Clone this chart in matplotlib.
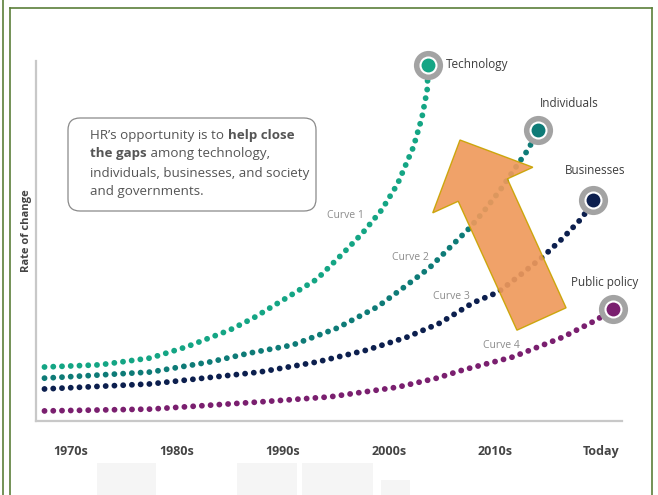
import matplotlib
matplotlib.use("Agg")
import matplotlib.pyplot as plt
from matplotlib.patches import FancyBboxPatch, FancyArrow, Rectangle

plt.rcParams['font.family'] = ['Open Sans', 'DejaVu Sans']

# ------------------------------
# Data (x in decades from the 1970s, y = rate of change 0..100)
# ------------------------------
decades = ['1970s', '1980s', '1990s', '2000s', '2010s', 'Today']

curve1_x = [-0.25, 0.27, 0.75, 1.09, 1.50, 1.72, 2.00, 2.32, 2.57, 2.75, 2.93, 3.08, 3.23, 3.31, 3.36, 3.37]
curve1_y = [15.0, 15.6, 17.5, 20.6, 25.3, 28.6, 33.6, 39.4, 46.7, 52.2, 58.6, 65.8, 76.1, 84.2, 91.9, 98.9]

curve2_x = [-0.25, 0.75, 1.31, 1.69, 2.09, 2.51, 2.89, 3.13, 3.38, 3.55, 3.76, 3.89, 4.05, 4.21, 4.31, 4.41]
curve2_y = [11.9, 13.6, 16.4, 18.9, 21.1, 25.8, 31.7, 36.9, 42.5, 47.5, 53.6, 58.1, 64.2, 71.1, 75.3, 80.8]

curve3_x = [-0.25, 0.75, 1.78, 2.32, 2.79, 3.17, 3.48, 3.79, 4.03, 4.24, 4.45, 4.64, 4.83, 4.92]
curve3_y = [8.9, 10.3, 13.6, 16.4, 19.7, 23.3, 27.2, 32.8, 35.8, 40.6, 45.6, 50.8, 56.7, 61.4]

curve4_x = [-0.25, 0.75, 1.78, 2.44, 3.08, 3.45, 3.70, 4.17, 4.64, 4.96, 5.11]
curve4_y = [2.8, 3.3, 5.3, 6.7, 9.4, 11.9, 14.2, 17.8, 23.3, 28.1, 31.1]

curve_names = ['Technology', 'Individuals', 'Businesses', 'Public policy']
curve_labels = ['Curve 1', 'Curve 2', 'Curve 3', 'Curve 4']
colors = ['#14a584', '#0e7b77', '#0c1f4e', '#7a1f6f']

# ------------------------------
# Figure and axes
# ------------------------------
W, H = 658, 495
fig = plt.figure(figsize=(W / 100, H / 100), dpi=100)
ax = fig.add_axes([36 / W, (H - 421) / H, (622 - 36) / W, (421 - 61) / H])
ax.patch.set_visible(False)
ax.set_xlim(-0.33, 5.198)
ax.set_ylim(0, 100)

for s in ['top', 'right']:
    ax.spines[s].set_visible(False)
for s in ['left', 'bottom']:
    ax.spines[s].set_color('#c8c8c8')
    ax.spines[s].set_linewidth(1.6)

ax.set_xticks(range(len(decades)))
ax.set_xticklabels(decades, fontsize=9, fontweight='bold', color='#444444')
ax.tick_params(axis='x', length=0, pad=17)
ax.set_yticks([])
ax.set_ylabel('Rate of change', fontsize=8, fontweight='bold', color='#444444')
ax.yaxis.set_label_coords(-0.006, 0.53)

# ------------------------------
# Dotted curves with ringed end points
# ------------------------------
curves = [(curve1_x, curve1_y), (curve2_x, curve2_y), (curve3_x, curve3_y), (curve4_x, curve4_y)]
for (xs, ys), c in zip(curves, colors):
    ax.plot(xs, ys, color=c, lw=4.2, linestyle=(0, (0.01, 1.49)),
            dash_capstyle='round', zorder=3, clip_on=False)
    ax.plot(xs[-1], ys[-1], 'o', ms=21, color='#a3a3a3', mec='none', zorder=4, clip_on=False)
    ax.plot(xs[-1], ys[-1], 'o', ms=13, color='white', mec='none', zorder=5, clip_on=False)
    ax.plot(xs[-1], ys[-1], 'o', ms=10, color=c, mec='none', zorder=6, clip_on=False)

# End labels
name_style = dict(fontsize=8.5, color='#3d3d3d', va='center')
ax.text(3.54, 98.9, curve_names[0], ha='left', **name_style)
ax.text(4.70, 88.3, curve_names[1], ha='center', **name_style)
ax.text(4.94, 69.7, curve_names[2], ha='center', **name_style)
ax.text(5.03, 38.6, curve_names[3], ha='center', **name_style)

# Curve labels
lab_style = dict(fontsize=7.5, color='#8c8c8c', ha='center', va='center')
ax.text(2.59, 57.2, curve_labels[0], **lab_style)
ax.text(3.20, 45.3, curve_labels[1], **lab_style)
ax.text(3.59, 34.7, curve_labels[2], **lab_style)
ax.text(4.06, 21.1, curve_labels[3], **lab_style)

# ------------------------------
# Decorations in pixel coordinates
# ------------------------------
deco = fig.add_axes([0, 0, 1, 1])
deco.set_xlim(0, W)
deco.set_ylim(H, 0)
deco.axis('off')

frame_c = '#5b7f3a'
deco.plot([3, 3], [0, H], color=frame_c, lw=1.2)
deco.plot([10, 10], [8, H], color=frame_c, lw=1.2)
deco.plot([10, 652], [8, 8], color=frame_c, lw=1.2)
deco.plot([652, 652], [8, H], color=frame_c, lw=1.2)

# faint background blocks at the bottom
for bx, by, bw, bh in [(97, 463, 59, 40), (237, 463, 60, 40), (302, 463, 71, 40), (381, 480, 29, 20)]:
    deco.add_patch(Rectangle((bx, by), bw, bh, facecolor='#f5f5f5', edgecolor='none', zorder=0))

# text box
deco.add_patch(FancyBboxPatch((68, 118), 248, 93, boxstyle='round,pad=0,rounding_size=12',
                              facecolor='white', edgecolor='#8a8a8a', lw=0.9))
box_style = dict(fontsize=9.6, color='#555555', va='center', ha='left')
t1 = deco.text(90, 135, 'HR’s opportunity is to ', **box_style)
deco.annotate('help close', xy=(1, 0.5), xycoords=t1, fontweight='bold', **box_style)
t2 = deco.text(90, 154, 'the gaps', fontweight='bold', **box_style)
deco.annotate(' among technology,', xy=(1, 0.5), xycoords=t2, **box_style)
deco.text(90, 173, 'individuals, businesses, and society', **box_style)
deco.text(90, 192, 'and governments.', **box_style)

# big orange arrow
tail_x, tail_y = 541.5, 319
tip_x, tip_y = 460, 140
deco.add_patch(FancyArrow(tail_x, tail_y, tip_x - tail_x, tip_y - tail_y, width=54,
                          head_width=110, head_length=55, length_includes_head=True,
                          facecolor='#ef9a5c', edgecolor='#c9a300', lw=1.0, alpha=0.92, zorder=10))

fig.savefig('out.png', dpi=100)
